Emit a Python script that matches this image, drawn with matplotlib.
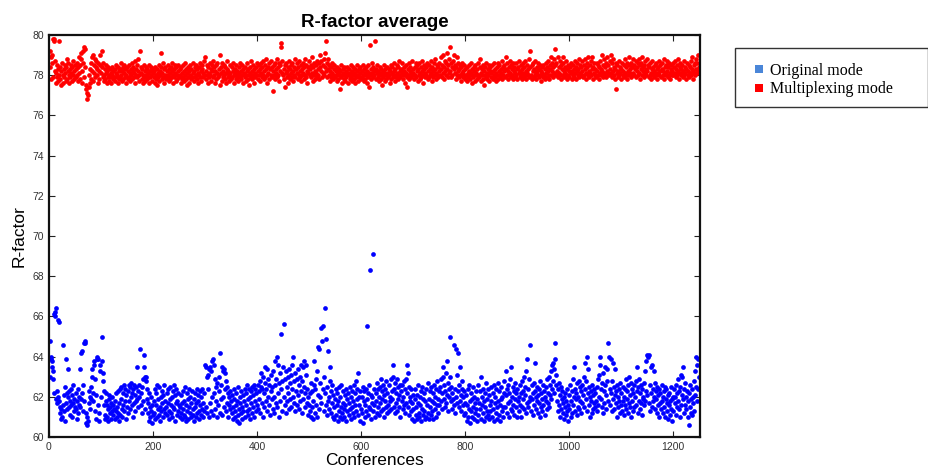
import numpy as np
import matplotlib
matplotlib.use("Agg")
import matplotlib.pyplot as plt
from matplotlib.lines import Line2D
from matplotlib.patches import Rectangle

# ---------------- data ----------------
series_names = ["Original mode", "Multiplexing mode"]
x_ticks = [0, 200, 400, 600, 800, 1000, 1200]
y_ticks = [60, 62, 64, 66, 68, 70, 72, 74, 76, 78, 80]

original_mode = [
    63.0, 64.8, 63.9, 64.0, 63.5, 63.8, 62.9, 63.3, 62.2, 66.1, 66.2, 66.0, 66.4, 61.9, 62.3, 61.7, 62.0, 65.8, 65.7, 61.8, 61.5, 61.2, 60.9, 61.4, 61.0,
    64.6, 61.6, 62.1, 61.3, 60.8, 62.5, 63.9, 61.7, 62.2, 61.4, 63.4, 62.0, 61.5, 62.3, 61.1, 61.8, 62.4, 61.6, 62.1, 61.0, 61.7, 62.6, 61.3, 61.9, 61.5,
    62.2, 61.4, 60.9, 61.8, 62.4, 61.2, 61.6, 62.0, 63.4, 61.5, 61.9, 64.2, 64.3, 62.2, 61.3, 62.6, 61.8, 64.7, 64.8, 64.7, 61.2, 60.7, 60.6, 61.0, 60.8,
    61.7, 62.3, 61.4, 62.0, 61.9, 62.5, 63.4, 63.0, 61.8, 62.2, 63.8, 63.6, 62.9, 61.3, 60.9, 62.1, 63.9, 64.0, 63.9, 61.6, 61.2, 60.8, 63.6, 63.3, 62.0,
    65.0, 63.8, 63.2, 62.8, 61.6, 62.3, 61.1, 60.9, 61.8, 62.2, 61.0, 61.6, 61.4, 60.8, 61.9, 62.1, 61.2, 61.5, 60.9, 61.7, 61.3, 62.0, 61.1, 61.6, 61.4,
    60.9, 61.8, 61.3, 62.2, 61.0, 61.5, 62.3, 61.2, 60.8, 61.7, 62.4, 61.1, 61.9, 62.5, 61.4, 61.0, 62.2, 61.6, 62.6, 61.3, 61.8, 62.4, 60.9, 62.1, 61.5,
    62.3, 61.2, 62.6, 61.8, 62.5, 61.4, 62.0, 62.7, 61.6, 62.2, 61.0, 62.4, 61.7, 62.6, 61.3, 62.1, 61.8, 62.5, 63.5, 61.9, 62.3, 61.5, 62.6, 62.0, 64.4,
    61.6, 62.2, 61.2, 62.5, 61.8, 62.9, 63.5, 64.1, 61.4, 63.0, 62.8, 63.0, 61.9, 62.4, 61.2, 61.7, 62.2, 60.8, 61.5, 61.0, 62.0, 61.3, 60.7, 61.6, 61.1,
    61.8, 61.2, 62.4, 60.9, 61.6, 62.2, 61.0, 62.6, 61.4, 61.9, 61.1, 62.5, 61.5, 60.8, 62.0, 61.3, 62.3, 61.7, 61.0, 62.1, 61.4, 62.6, 61.2, 61.8, 61.5,
    62.2, 61.1, 61.7, 62.4, 61.3, 60.9, 61.9, 62.5, 61.2, 61.6, 62.0, 61.0, 62.3, 61.5, 62.6, 61.4, 62.1, 60.8, 61.7, 62.4, 61.1, 61.8, 62.2, 61.3, 61.6,
    61.0, 61.5, 62.1, 61.2, 60.9, 61.7, 62.3, 61.4, 61.1, 61.8, 62.5, 61.0, 61.6, 60.8, 62.2, 61.3, 61.9, 60.9, 62.4, 61.5, 61.2, 62.0, 61.0, 61.7, 62.3,
    61.4, 61.1, 61.9, 60.8, 62.2, 61.5, 61.0, 61.7, 62.4, 61.2, 61.8, 62.1, 61.3, 60.9, 62.3, 61.6, 61.1, 62.0, 61.4, 62.4, 61.0, 61.7, 62.2, 61.3, 63.6,
    63.5, 61.5, 63.0, 61.2, 63.1, 62.4, 61.0, 63.4, 61.7, 63.5, 61.3, 63.3, 62.0, 63.8, 61.1, 63.9, 62.2, 63.6, 61.4, 62.9, 61.8, 62.5, 61.0, 62.7, 61.6,
    62.3, 63.0, 61.2, 64.2, 61.9, 62.6, 63.5, 61.1, 63.3, 62.0, 63.4, 61.5, 62.4, 63.2, 61.3, 62.8, 61.7, 62.5, 61.0, 62.2, 61.6, 62.0, 61.4, 62.3, 61.8,
    61.2, 62.1, 61.5, 60.9, 61.9, 62.4, 61.3, 61.0, 62.2, 61.6, 60.8, 61.8, 62.5, 61.1, 61.4, 60.7, 62.0, 61.7, 61.2, 62.3, 61.5, 60.9, 62.1, 61.3, 61.8,
    62.4, 61.0, 61.6, 62.2, 61.3, 62.6, 61.1, 61.9, 62.4, 61.4, 60.9, 62.0, 61.7, 62.3, 61.2, 62.5, 61.5, 62.1, 61.0, 62.6, 61.8, 62.4, 61.3, 62.2, 61.6,
    62.6, 61.4, 62.3, 61.9, 62.8, 61.2, 62.5, 63.2, 61.7, 62.4, 61.0, 63.0, 62.2, 61.5, 62.7, 63.5, 61.8, 62.4, 63.4, 61.3, 62.9, 62.0, 61.6, 62.6, 61.1,
    62.3, 63.1, 61.9, 62.5, 61.4, 63.3, 62.0, 61.2, 63.8, 62.6, 61.7, 62.9, 64.0, 61.5, 62.2, 63.6, 61.0, 62.7, 61.8, 63.2, 65.1, 62.4, 61.3, 62.8, 63.5,
    65.6, 62.0, 61.6, 62.9, 63.3, 61.2, 62.5, 61.8, 63.0, 62.2, 61.4, 63.4, 62.7, 61.9, 63.1, 61.5, 62.4, 63.6, 62.0, 64.0, 61.7, 62.8, 63.2, 61.3, 62.3,
    62.9, 61.6, 63.4, 62.1, 61.4, 62.6, 63.0, 61.8, 63.6, 62.3, 61.2, 62.8, 63.5, 61.9, 63.8, 62.5, 61.5, 62.2, 63.1, 63.6, 61.7, 62.4, 61.1, 62.0, 61.6,
    61.3, 62.2, 61.0, 62.7, 61.5, 62.3, 60.9, 61.8, 62.6, 63.8, 61.2, 62.4, 61.6, 62.9, 61.0, 63.3, 64.5, 62.1, 64.4, 61.4, 62.7, 62.0, 65.4, 61.7, 64.8,
    65.5, 62.4, 61.3, 63.0, 66.4, 62.2, 61.6, 64.9, 61.1, 62.5, 61.8, 64.3, 62.0, 61.4, 63.5, 62.8, 61.2, 62.3, 61.7, 62.6, 61.0, 62.1, 61.5, 60.9, 61.9,
    62.4, 61.1, 61.6, 62.2, 60.8, 61.8, 62.5, 61.3, 61.0, 62.0, 61.5, 62.6, 61.2, 60.9, 61.7, 62.3, 61.4, 61.0, 62.1, 61.6, 60.8, 62.4, 61.3, 61.9, 62.2,
    61.1, 61.7, 62.5, 61.4, 60.9, 62.0, 61.5, 62.3, 61.2, 61.8, 62.6, 61.0, 61.6, 62.2, 61.3, 62.8, 61.9, 62.4, 63.2, 61.1, 62.0, 61.6, 60.8, 62.3, 61.4,
    62.0, 61.2, 62.5, 60.7, 61.8, 62.3, 61.0, 61.6, 62.4, 61.3, 65.5, 61.9, 62.2, 61.1, 61.5, 62.6, 68.3, 61.4, 62.1, 60.9, 61.7, 62.0, 69.1, 61.3, 62.4,
    61.6, 61.0, 62.2, 61.8, 62.7, 61.2, 61.5, 62.4, 61.1, 62.0, 61.7, 62.5, 61.3, 62.9, 61.9, 62.3, 61.4, 62.6, 61.0, 62.1, 61.8, 62.4, 61.5, 62.8, 61.2,
    62.2, 61.6, 62.6, 61.3, 62.0, 61.8, 62.9, 61.4, 62.3, 61.9, 63.0, 63.6, 61.5, 62.4, 61.2, 62.7, 61.7, 62.2, 62.9, 61.3, 62.5, 61.9, 62.1, 61.5, 62.6,
    61.0, 62.3, 61.8, 62.6, 61.4, 62.0, 62.8, 61.6, 62.4, 61.2, 62.9, 61.7, 63.6, 62.2, 63.2, 61.5, 62.5, 61.1, 62.0, 61.8, 62.4, 61.3, 60.9, 61.7, 62.1,
    61.4, 60.8, 61.9, 62.4, 61.1, 61.5, 62.1, 60.9, 61.7, 62.6, 61.2, 61.0, 62.0, 61.6, 62.3, 60.8, 61.4, 62.5, 61.9, 61.1, 62.2, 61.3, 60.9, 61.8, 62.4,
    61.0, 61.6, 62.7, 61.2, 61.9, 60.9, 62.3, 61.5, 61.1, 62.5, 61.8, 61.3, 62.2, 60.9, 61.7, 62.6, 61.4, 62.0, 61.0, 62.4, 61.6, 62.8, 61.2, 61.9, 62.3,
    61.6, 62.5, 61.8, 62.9, 61.4, 62.2, 63.0, 63.5, 61.9, 62.6, 61.5, 62.3, 63.2, 61.7, 63.8, 62.1, 61.3, 62.7, 62.0, 62.4, 63.0, 65.0, 61.8, 62.5, 61.4,
    62.2, 61.9, 64.6, 61.6, 62.4, 61.2, 64.4, 62.0, 61.7, 63.1, 62.3, 64.2, 61.5, 62.6, 63.5, 61.8, 62.1, 61.3, 62.4, 62.8, 61.6, 62.0, 61.1, 62.3, 61.7,
    61.2, 62.1, 60.8, 61.6, 62.4, 61.0, 61.4, 62.6, 61.8, 60.7, 61.3, 62.2, 61.9, 61.0, 62.5, 61.5, 60.9, 62.0, 61.7, 61.2, 62.3, 61.4, 60.8, 61.9, 62.6,
    61.1, 61.7, 62.3, 61.4, 63.0, 60.9, 62.0, 61.6, 61.2, 62.4, 61.8, 60.8, 61.5, 62.2, 61.0, 62.7, 61.3, 61.9, 62.4, 61.1, 60.9, 62.1, 61.6, 61.3, 62.5,
    61.8, 61.0, 62.2, 61.4, 62.6, 60.8, 61.7, 62.0, 61.2, 62.4, 61.5, 60.9, 62.7, 61.8, 61.1, 62.3, 61.6, 60.8, 61.9, 62.5, 61.3, 62.0, 61.5, 61.0, 62.2,
    62.8, 61.5, 63.3, 62.1, 61.2, 62.4, 61.7, 62.6, 61.0, 62.2, 61.8, 62.9, 61.4, 63.5, 62.0, 61.3, 62.5, 61.6, 62.3, 61.1, 62.7, 61.9, 61.5, 62.2, 61.0,
    62.4, 61.8, 62.0, 61.3, 62.6, 61.6, 62.2, 61.0, 62.8, 61.5, 62.3, 61.9, 63.0, 61.4, 62.5, 62.1, 61.2, 63.3, 61.7, 63.9, 62.4, 61.5, 62.9, 61.8, 64.6,
    62.0, 61.3, 62.6, 61.9, 62.2, 61.1, 62.7, 61.6, 62.3, 63.7, 61.4, 62.0, 61.8, 62.5, 61.2, 62.1, 61.7, 62.4, 61.0, 62.8, 61.5, 62.2, 61.9, 61.3, 62.6,
    61.6, 62.3, 61.1, 62.0, 61.8, 62.5, 61.4, 62.9, 61.7, 62.2, 63.0, 61.5, 62.6, 62.1, 63.3, 61.9, 62.4, 63.6, 62.8, 63.7, 62.2, 63.4, 63.9, 64.7, 62.6,
    63.1, 61.8, 62.4, 61.3, 62.7, 61.6, 62.1, 61.0, 62.5, 61.4, 61.9, 62.3, 61.2, 61.7, 62.0, 60.9, 61.5, 62.2, 61.1, 61.8, 62.4, 61.3, 60.8, 61.6, 62.1,
    61.4, 62.6, 61.0, 61.8, 62.3, 61.2, 62.9, 61.6, 62.0, 63.5, 61.3, 62.4, 61.9, 62.2, 61.1, 62.7, 61.5, 62.0, 62.8, 61.4, 62.5, 61.8, 62.3, 61.2, 62.6,
    61.7, 62.1, 63.0, 61.5, 63.7, 62.4, 61.9, 62.8, 64.0, 61.3, 63.4, 62.2, 61.6, 62.5, 61.0, 62.0, 61.8, 62.3, 61.2, 62.6, 61.4, 62.1, 61.7, 62.4, 61.5,
    62.2, 61.8, 62.5, 61.3, 62.9, 61.6, 63.1, 62.0, 63.6, 64.0, 61.9, 62.4, 61.5, 62.7, 61.2, 63.2, 62.3, 61.7, 62.6, 63.5, 61.4, 62.1, 63.4, 62.8, 64.7,
    61.8, 64.0, 62.4, 61.6, 63.9, 62.2, 61.3, 62.8, 63.7, 61.9, 62.5, 61.4, 62.1, 63.4, 61.7, 62.3, 61.0, 62.6, 61.5, 62.0, 61.8, 62.4, 61.2, 62.7, 61.6,
    62.2, 61.3, 62.5, 61.8, 62.0, 61.1, 62.4, 61.6, 62.9, 61.4, 62.3, 61.9, 61.2, 62.6, 63.0, 61.7, 62.1, 61.5, 62.7, 61.0, 62.4, 61.8, 62.2, 61.3, 62.6,
    61.5, 62.0, 62.8, 61.6, 63.5, 62.3, 61.2, 62.5, 61.8, 62.9, 61.4, 62.2, 61.7, 62.6, 61.1, 62.4, 61.9, 62.0, 61.6, 62.7, 63.3, 61.8, 62.3, 63.8, 64.1,
    62.1, 64.0, 64.1, 61.7, 62.6, 61.3, 63.5, 62.2, 61.5, 63.6, 62.4, 61.8, 63.3, 62.0, 61.4, 62.7, 61.9, 62.3, 61.2, 62.5, 61.6, 62.1, 61.0, 62.4, 61.7,
    62.2, 61.4, 62.6, 61.8, 62.0, 61.2, 62.3, 61.5, 62.5, 61.0, 61.9, 62.4, 61.3, 61.7, 62.1, 60.9, 61.6, 62.2, 61.1, 61.8, 62.5, 61.4, 60.8, 61.9, 62.0,
    61.3, 62.4, 61.7, 62.0, 61.1, 62.6, 61.5, 62.2, 61.8, 62.9, 61.4, 62.3, 61.0, 62.5, 63.1, 61.6, 62.1, 63.0, 61.9, 63.5, 62.4, 61.2, 62.7, 61.6, 62.0,
    61.4, 62.3, 61.0, 61.8, 60.6, 62.2, 61.5, 62.6, 61.2, 61.9, 62.4, 61.1, 62.0, 61.7, 62.8, 61.3, 63.3, 62.1, 62.5, 64.0, 61.8, 63.6, 63.9, 62.4, 63.0,
]

multiplexing_mode = [
    78.4, 79.2, 78.9, 77.8, 78.6, 79.0, 77.9, 79.8, 79.7, 79.8, 78.2, 78.7, 77.6, 78.1, 78.5, 77.9, 78.3, 77.7, 78.0, 79.7, 78.4, 77.8, 78.2, 77.5, 78.6,
    78.0, 77.6, 78.3, 77.9, 78.5, 78.1, 77.7, 78.4, 78.8, 77.8, 78.2, 78.6, 77.6, 78.0, 78.3, 77.9, 78.5, 78.1, 77.7, 78.4, 78.0, 78.7, 77.8, 78.2, 78.5,
    77.9, 78.3, 78.6, 78.0, 77.7, 78.4, 78.9, 78.1, 78.5, 77.8, 78.8, 79.1, 78.2, 77.6, 79.2, 78.6, 77.9, 79.4, 79.3, 78.4, 77.5, 77.3, 77.1, 76.8, 77.0,
    77.4, 78.0, 77.6, 78.3, 77.8, 78.6, 78.9, 78.2, 79.0, 77.7, 78.5, 78.1, 78.8, 77.9, 78.4, 78.7, 78.0, 78.3, 77.6, 78.6, 78.2, 77.8, 78.5, 79.0, 78.1,
    79.2, 78.4, 77.9, 78.6, 78.0, 77.7, 78.3, 77.8, 78.1, 78.5, 77.6, 78.2, 77.9, 78.4, 78.0, 77.7, 78.3, 77.9, 78.1, 77.6, 78.4, 78.0, 77.8, 78.2, 77.9,
    78.3, 77.7, 78.1, 78.5, 77.9, 78.0, 77.6, 78.4, 78.2, 77.8, 78.3, 77.9, 78.6, 78.0, 77.7, 78.2, 78.4, 77.8, 78.1, 78.5, 77.9, 78.3, 77.6, 78.0, 78.4,
    77.8, 78.2, 77.9, 78.5, 78.1, 77.7, 78.3, 78.0, 78.6, 77.8, 78.2, 78.4, 77.9, 78.1, 78.7, 77.6, 78.3, 78.0, 78.5, 77.9, 78.2, 78.8, 78.0, 77.7, 79.2,
    78.1, 78.4, 77.8, 78.3, 77.6, 78.0, 78.5, 77.9, 78.2, 77.7, 78.4, 78.0, 77.8, 78.3, 77.9, 78.1, 78.5, 77.6, 78.2, 77.9, 78.4, 78.0, 77.7, 78.3, 78.1,
    77.9, 78.2, 77.6, 78.4, 78.0, 77.8, 78.3, 77.5, 78.1, 77.9, 78.5, 77.7, 78.2, 78.0, 79.1, 78.4, 77.8, 78.1, 78.6, 77.9, 78.3, 77.6, 78.0, 78.4, 77.8,
    78.2, 77.9, 78.5, 78.0, 77.7, 78.3, 78.1, 77.8, 78.4, 77.9, 78.2, 78.6, 77.6, 78.0, 78.3, 77.9, 78.5, 78.1, 77.7, 78.4, 78.0, 77.8, 78.2, 78.5, 77.9,
    78.3, 78.0, 77.6, 78.4, 78.1, 77.8, 78.5, 77.9, 78.2, 77.7, 78.6, 78.0, 77.8, 78.3, 77.5, 78.1, 78.4, 77.9, 78.2, 77.6, 78.5, 78.0, 77.8, 78.3, 77.9,
    78.1, 78.6, 77.7, 78.2, 78.4, 77.9, 78.0, 78.5, 77.8, 78.3, 78.1, 77.6, 78.4, 78.0, 77.9, 78.6, 78.2, 77.7, 78.3, 78.5, 77.9, 78.1, 78.7, 78.0, 78.9,
    78.2, 77.8, 78.5, 78.0, 77.6, 78.4, 78.1, 77.9, 78.6, 78.0, 78.3, 77.7, 78.5, 78.2, 77.9, 78.7, 78.0, 78.4, 77.6, 78.2, 78.5, 77.8, 78.1, 78.6, 77.9,
    78.3, 78.0, 77.5, 79.0, 78.4, 78.1, 77.7, 78.6, 78.2, 77.9, 78.5, 78.0, 77.8, 78.4, 78.1, 77.6, 78.3, 78.7, 77.9, 78.2, 78.0, 77.7, 78.5, 78.1, 77.8,
    78.4, 77.9, 78.2, 78.6, 78.0, 77.6, 78.3, 78.1, 77.8, 78.5, 77.9, 78.2, 78.0, 77.7, 78.4, 78.1, 77.9, 78.6, 78.2, 77.8, 78.0, 78.5, 77.6, 78.3, 78.1,
    77.9, 78.4, 78.0, 77.7, 78.6, 78.2, 77.8, 78.3, 78.0, 77.5, 78.4, 78.1, 77.9, 78.7, 78.2, 77.8, 78.5, 78.0, 77.6, 78.3, 78.1, 77.9, 78.4, 78.0, 78.6,
    78.2, 77.8, 78.5, 78.0, 78.3, 77.7, 78.6, 78.1, 77.9, 78.4, 78.0, 78.7, 77.8, 78.2, 78.5, 77.9, 78.3, 78.8, 78.0, 77.6, 78.4, 78.1, 78.6, 77.8, 78.3,
    78.0, 78.7, 77.9, 78.4, 78.2, 77.2, 78.5, 78.0, 77.8, 78.6, 78.3, 78.1, 78.8, 77.9, 78.4, 78.0, 78.6, 77.7, 78.2, 78.5, 79.4, 79.6, 78.1, 78.7, 78.0,
    78.3, 77.8, 78.5, 77.4, 78.1, 78.6, 77.9, 78.2, 78.4, 77.6, 78.0, 78.7, 78.3, 77.8, 78.5, 78.1, 77.9, 78.6, 78.2, 77.7, 78.4, 78.0, 78.8, 77.9, 78.3,
    78.1, 78.6, 77.8, 78.4, 78.0, 78.7, 77.9, 78.2, 78.5, 77.7, 78.3, 78.0, 78.6, 78.1, 77.8, 78.4, 78.8, 78.0, 77.9, 78.5, 78.2, 77.6, 78.4, 78.1, 78.7,
    78.0, 78.3, 77.9, 78.5, 78.9, 78.1, 77.7, 78.4, 78.0, 78.6, 78.2, 77.8, 78.5, 78.1, 77.9, 78.7, 78.3, 78.0, 78.6, 77.8, 78.4, 79.0, 78.2, 78.7, 77.9,
    78.5, 78.1, 78.8, 78.0, 78.4, 79.1, 79.7, 78.2, 78.6, 77.9, 78.3, 78.8, 78.0, 78.5, 77.7, 78.2, 78.4, 77.9, 78.1, 78.6, 78.0, 77.8, 78.3, 78.5, 77.9,
    78.2, 78.0, 77.7, 78.4, 78.1, 77.8, 78.3, 78.0, 77.3, 78.2, 77.9, 78.5, 78.0, 77.6, 78.3, 78.1, 77.8, 78.4, 78.0, 77.7, 78.2, 77.9, 78.4, 78.1, 77.6,
    78.0, 78.3, 77.8, 78.1, 78.5, 77.9, 78.2, 77.7, 78.0, 78.4, 77.8, 78.1, 77.6, 78.3, 78.0, 77.9, 78.2, 78.5, 77.7, 78.0, 78.3, 77.9, 78.1, 78.4, 77.8,
    78.2, 77.9, 78.5, 78.0, 77.7, 78.3, 78.1, 77.8, 78.4, 78.0, 77.6, 78.2, 77.9, 78.5, 78.1, 77.4, 79.5, 78.0, 78.3, 77.8, 78.6, 78.1, 77.9, 78.4, 78.2,
    78.0, 79.7, 78.3, 77.8, 78.1, 78.5, 77.9, 78.2, 78.0, 77.7, 78.4, 78.1, 77.8, 78.3, 77.5, 78.0, 78.2, 77.9, 78.5, 78.1, 77.7, 78.3, 78.0, 77.8, 78.4,
    78.1, 77.9, 78.3, 78.0, 77.6, 78.2, 78.5, 77.8, 78.1, 78.4, 77.9, 78.0, 78.6, 78.2, 77.7, 78.3, 78.0, 77.9, 78.5, 78.1, 77.8, 78.4, 78.0, 78.7, 78.2,
    77.9, 78.3, 78.1, 78.6, 78.0, 77.8, 78.4, 78.2, 77.6, 78.0, 78.5, 78.1, 77.9, 77.4, 78.3, 78.0, 78.6, 77.8, 78.2, 78.4, 77.9, 78.1, 78.7, 78.0, 78.3,
    78.1, 77.8, 78.4, 78.0, 78.6, 77.9, 78.2, 78.5, 77.7, 78.3, 78.0, 78.6, 77.8, 78.1, 78.4, 77.9, 78.2, 78.7, 78.0, 77.6, 78.3, 78.5, 77.9, 78.1, 78.4,
    78.0, 78.6, 77.8, 78.2, 78.5, 77.9, 78.3, 78.0, 78.7, 78.1, 77.7, 78.4, 78.2, 77.9, 78.6, 78.0, 78.3, 78.8, 77.8, 78.1, 78.5, 78.0, 77.9, 78.4, 78.2,
    78.6, 78.0, 78.3, 78.9, 77.9, 78.5, 78.1, 79.0, 78.4, 77.8, 78.7, 78.2, 78.0, 78.6, 79.1, 78.3, 77.9, 78.5, 78.8, 78.1, 79.4, 78.2, 78.6, 77.9, 78.4,
    78.0, 78.7, 78.3, 79.0, 78.1, 78.5, 77.8, 78.4, 78.9, 78.0, 78.2, 78.6, 77.9, 78.3, 78.5, 78.0, 77.7, 78.4, 78.1, 78.6, 77.9, 78.2, 78.0, 78.5, 77.8,
    78.3, 78.0, 77.7, 78.4, 78.1, 77.9, 78.5, 78.2, 77.8, 78.0, 78.6, 78.1, 77.6, 78.3, 78.0, 77.9, 78.4, 78.2, 77.7, 78.5, 78.0, 78.1, 77.8, 78.3, 78.6,
    78.0, 77.9, 78.4, 78.8, 78.1, 77.7, 78.3, 78.0, 78.5, 77.8, 78.2, 77.5, 78.4, 78.0, 77.9, 78.6, 78.1, 77.8, 78.3, 78.0, 78.5, 77.7, 78.2, 78.4, 77.9,
    78.1, 78.5, 77.8, 78.2, 78.0, 78.6, 77.9, 78.3, 78.1, 77.7, 78.4, 78.0, 78.6, 77.8, 78.2, 78.5, 78.0, 77.9, 78.3, 78.1, 78.7, 77.8, 78.4, 78.0, 78.2,
    78.5, 77.9, 78.9, 78.3, 78.0, 78.6, 77.8, 78.2, 78.4, 78.0, 78.7, 78.1, 77.9, 78.5, 78.3, 78.0, 78.6, 77.8, 78.2, 78.4, 77.9, 78.1, 78.6, 78.0, 78.3,
    77.8, 78.4, 78.1, 78.7, 77.9, 78.2, 78.5, 78.0, 77.8, 78.3, 78.6, 78.1, 77.9, 78.4, 78.0, 78.7, 78.2, 77.8, 78.5, 78.1, 78.3, 78.0, 78.8, 77.9, 78.4,
    79.2, 78.0, 78.5, 77.8, 78.2, 78.6, 77.9, 78.3, 78.0, 78.7, 78.1, 77.8, 78.4, 78.2, 78.0, 78.6, 77.9, 78.3, 78.5, 78.0, 77.7, 78.2, 78.4, 78.1, 77.9,
    78.5, 78.0, 78.3, 77.8, 78.6, 78.1, 77.9, 78.4, 78.2, 78.7, 78.0, 77.8, 78.5, 78.3, 78.9, 78.0, 78.6, 78.2, 77.9, 78.4, 78.8, 78.1, 78.5, 79.3, 78.0,
    78.6, 78.2, 78.9, 77.9, 78.4, 78.1, 78.7, 78.0, 77.8, 78.5, 78.3, 78.0, 78.6, 78.9, 78.2, 77.9, 78.4, 78.1, 78.7, 78.0, 77.8, 78.3, 78.5, 78.0, 78.2,
    77.9, 78.4, 78.1, 78.6, 77.8, 78.2, 78.5, 78.0, 78.3, 77.9, 78.7, 78.1, 78.4, 77.8, 78.2, 78.6, 78.0, 78.3, 78.8, 77.9, 78.5, 78.1, 78.0, 78.4, 78.7,
    78.2, 77.9, 78.5, 78.0, 78.3, 78.8, 78.1, 77.8, 78.4, 78.6, 78.0, 78.9, 78.2, 77.9, 78.5, 78.1, 78.7, 78.0, 78.3, 78.9, 77.8, 78.4, 78.1, 78.6, 78.0,
    78.3, 77.9, 78.6, 78.2, 78.0, 78.5, 77.8, 78.4, 78.1, 78.7, 78.0, 78.3, 79.0, 78.2, 77.9, 78.5, 78.1, 78.8, 78.0, 78.4, 78.6, 77.9, 78.2, 78.9, 78.1,
    78.5, 78.0, 78.7, 78.3, 79.0, 78.1, 77.9, 78.6, 78.2, 78.8, 78.0, 78.4, 77.8, 78.3, 78.6, 77.3, 78.1, 78.5, 77.9, 78.2, 78.7, 78.0, 78.4, 78.1, 77.8,
    78.3, 78.6, 78.0, 78.2, 77.9, 78.5, 78.1, 78.8, 78.0, 78.4, 77.8, 78.6, 78.2, 78.0, 78.5, 78.9, 78.1, 78.3, 77.9, 78.6, 78.0, 78.4, 78.8, 78.1, 78.5,
    78.0, 78.3, 78.7, 77.9, 78.4, 78.2, 78.6, 78.0, 78.8, 78.1, 78.5, 77.8, 78.3, 78.6, 78.0, 78.9, 78.2, 78.4, 77.9, 78.5, 78.1, 78.7, 78.0, 78.3, 78.8,
    78.2, 78.5, 77.9, 78.4, 78.0, 78.6, 78.1, 77.8, 78.3, 78.7, 78.0, 78.4, 78.2, 77.9, 78.5, 78.1, 78.6, 78.0, 78.3, 77.8, 78.4, 78.1, 78.7, 78.0, 78.2,
    78.5, 77.9, 78.3, 78.6, 78.0, 78.2, 78.8, 77.8, 78.4, 78.1, 78.5, 78.0, 78.7, 78.2, 77.9, 78.4, 78.0, 78.6, 78.1, 77.8, 78.3, 78.5, 78.0, 78.2, 78.6,
    78.0, 78.4, 78.1, 78.7, 77.9, 78.3, 78.5, 78.0, 78.2, 78.8, 78.1, 77.8, 78.4, 78.6, 78.0, 78.3, 78.1, 78.5, 77.9, 78.2, 78.7, 78.0, 78.4, 78.1, 77.8,
    78.3, 78.6, 78.0, 78.2, 78.5, 77.9, 78.4, 78.1, 78.7, 78.0, 78.3, 78.9, 77.8, 78.2, 78.5, 78.1, 78.6, 78.0, 78.8, 78.3, 78.1, 78.6, 79.0, 78.2, 78.4,
]

conferences = np.arange(1, len(original_mode) + 1)

# ---------------- figure ----------------
W, H = 929, 473
fig = plt.figure(figsize=(W / 100, H / 100), dpi=100)
ax = fig.add_axes([49 / W, 1 - 437 / H, (700 - 49) / W, (437 - 35) / H])

ax.plot(conferences, original_mode, linestyle="none", marker="o",
        markersize=3.4, markeredgewidth=0, color="#0000FF")
ax.plot(conferences, multiplexing_mode, linestyle="none", marker="o",
        markersize=3.4, markeredgewidth=0, color="#FF0000")

ax.set_xlim(0, 1252)
ax.set_ylim(60, 80)
ax.set_xticks(x_ticks)
ax.set_yticks(y_ticks)
ax.tick_params(direction="in", length=4, width=0.8, top=True, right=True,
               labelsize=7.5, labelcolor="#333333", colors="#222222")
for s in ax.spines.values():
    s.set_linewidth(1.6)
    s.set_color("#111111")

sans = ["Liberation Sans", "DejaVu Sans"]
for lab in ax.get_xticklabels() + ax.get_yticklabels():
    lab.set_family(sans)

ax.set_title("R-factor average", fontsize=13.5, fontweight="bold",
             family=sans, pad=6)
ax.set_xlabel("Conferences", fontsize=12.5, family=sans, labelpad=1)
ax.set_ylabel("R-factor", fontsize=12.5, family=sans, labelpad=4)

# legend box
fig.patches.append(Rectangle((735 / W, 1 - 107 / H), (W - 1 - 735) / W, 59 / H,
                             transform=fig.transFigure, facecolor="white",
                             edgecolor="#333333", linewidth=1.0))
handles = [Line2D([], [], linestyle="none", marker="s", markersize=5.5,
                  markerfacecolor="#4A86D8", markeredgewidth=0),
           Line2D([], [], linestyle="none", marker="s", markersize=5.5,
                  markerfacecolor="#FF0000", markeredgewidth=0)]
fig.legend(handles, series_names, loc="upper left",
           bbox_to_anchor=(753 / W, 1 - 63 / H), frameon=False,
           prop={"family": ["Liberation Serif"], "size": 11.5},
           handlelength=0.8, handletextpad=0.25, labelspacing=0.15,
           borderpad=0, borderaxespad=0)

fig.savefig("out.png", dpi=100)
